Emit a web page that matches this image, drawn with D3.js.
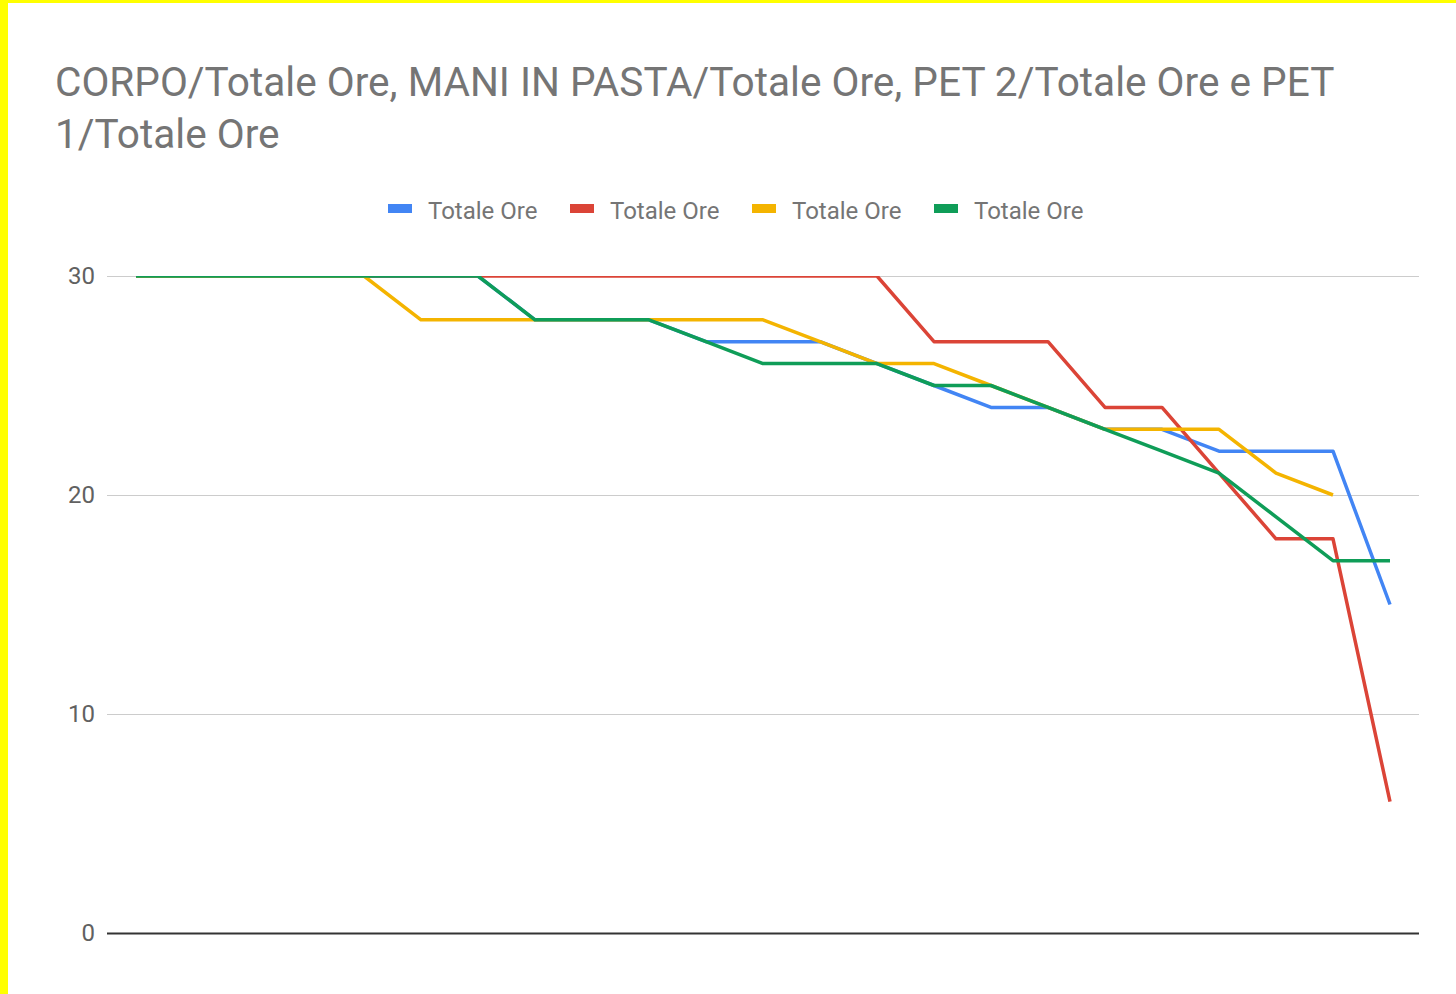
<!DOCTYPE html>
<html>
<head>
<meta charset="utf-8">
<script src="https://cdn.jsdelivr.net/npm/d3@7"></script>
<style>
  body { margin: 0; background: #fff; }
  svg { display: block; font-family: Roboto, "Noto Sans", sans-serif; }
</style>
</head>
<body>
<script>
"use strict";

(function() {

// chart values
let titleLines = ["CORPO/Totale Ore, MANI IN PASTA/Totale Ore, PET 2/Totale Ore e PET", "1/Totale Ore"];
let seriesNames = ["Totale Ore", "Totale Ore", "Totale Ore", "Totale Ore"];
let seriesColors = ["#4285f4", "#db4437", "#f4b400", "#0f9d58"];
let yTicks = [0, 10, 20, 30];

let corpo = [30,30,30,30,30,30,30,28,28,28,27,27,27,26,25,24,24,23,23,22,22,22,15];
let maniInPasta = [30,30,30,30,30,30,30,30,30,30,30,30,30,30,27,27,27,24,24,21,18,18,6];
let pet2 = [30,30,30,30,30,28,28,28,28,28,28,28,27,26,26,25,24,23,23,23,21,20];
let pet1 = [30,30,30,30,30,30,30,28,28,28,27,26,26,26,25,25,24,23,22,21,19,17,17];

let allSeries = [corpo, maniInPasta, pet2, pet1];

let W = 1456, H = 994;
let plot = {left: 107, right: 1419, top: 276, bottom: 933};

let svg = d3.select('body')
    .append('svg')
    .attr('width', W)
    .attr('height', H);

svg.append('rect').attr('width', W).attr('height', H).attr('fill', '#fff');

// yellow frame (left and top only)
svg.append('rect').attr('x', 0).attr('y', 0).attr('width', 8).attr('height', H).attr('fill', '#ffff00');
svg.append('rect').attr('x', 0).attr('y', 0).attr('width', W).attr('height', 3).attr('fill', '#ffff00');

// lines are clipped to the chart area, so the 30 line shows half its width
svg.append('defs').append('clipPath')
    .attr('id', 'area')
    .append('rect')
    .attr('x', plot.left)
    .attr('y', plot.top)
    .attr('width', plot.right - plot.left)
    .attr('height', plot.bottom - plot.top);

// title
svg.append('g').selectAll('text')
    .data(titleLines)
    .enter()
    .append('text')
    .attr('x', 55)
    .attr('y', function(d, i) { return 96 + i * 52; })
    .attr('font-size', 40.6)
    .attr('fill', '#757575')
    .text(function(d) { return d; });

let x = d3.scalePoint()
    .domain(d3.range(corpo.length))
    .range([136, 1390]);

let y = d3.scaleLinear()
    .domain([0, 30])
    .range([plot.bottom, plot.top]);

// y axis with gridlines
let yAxis = svg.append('g')
    .attr('transform', 'translate(' + plot.left + ',0)')
    .call(d3.axisLeft(y)
        .tickValues(yTicks)
        .tickSize(-(plot.right - plot.left))
        .tickPadding(12));

yAxis.select('.domain').remove();
yAxis.selectAll('.tick line')
    .attr('stroke', function(d) { return d === 0 ? '#333' : '#ccc'; })
    .attr('stroke-width', function(d) { return d === 0 ? 2 : 1; });
yAxis.selectAll('.tick text')
    .attr('font-size', 24)
    .attr('font-family', 'Roboto, sans-serif')
    .attr('fill', '#616161');

// lines
let line = d3.line()
    .x(function(d, i) { return x(i); })
    .y(function(d) { return y(d); });

svg.append('g')
    .attr('clip-path', 'url(#area)')
    .selectAll('path')
    .data(allSeries)
    .enter()
    .append('path')
    .attr('d', line)
    .attr('fill', 'none')
    .attr('stroke', function(d, i) { return seriesColors[i]; })
    .attr('stroke-width', 3.5)
    .attr('stroke-linejoin', 'round');

// legend
let legend = svg.append('g').selectAll('g')
    .data(seriesNames)
    .enter()
    .append('g')
    .attr('transform', function(d, i) { return 'translate(' + (388 + i * 182) + ',0)'; });

legend.append('rect')
    .attr('x', 0)
    .attr('y', 204)
    .attr('width', 24)
    .attr('height', 9)
    .attr('fill', function(d, i) { return seriesColors[i]; });

legend.append('text')
    .attr('x', 40)
    .attr('y', 219)
    .attr('font-size', 24)
    .attr('fill', '#757575')
    .text(function(d) { return d; });

})();
</script>
</body>
</html>
